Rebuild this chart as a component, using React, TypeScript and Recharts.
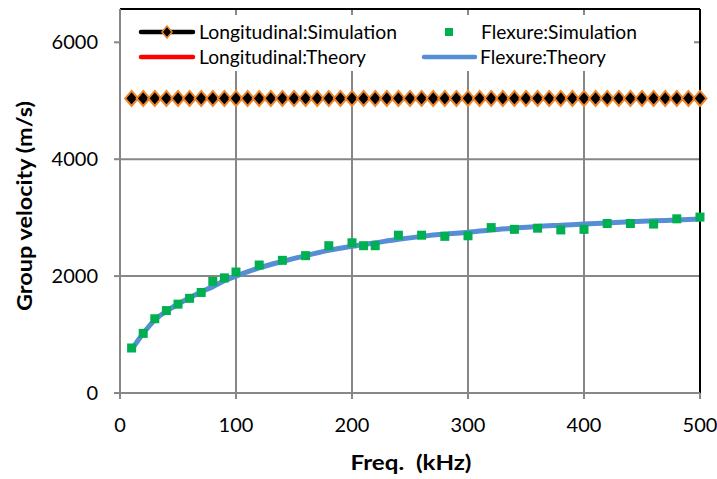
import React from "react";
import { CartesianGrid, ComposedChart, Line, ReferenceLine, Scatter, XAxis, YAxis } from "recharts";

// Longitudinal mode (simulation markers every 10 kHz, theory flat line)
const LONG_SIM_FREQ = [
  10, 20, 30, 40, 50, 60, 70, 80, 90, 100, 110, 120, 130, 140, 150, 160, 170, 180, 190, 200, 210, 220, 230, 240, 250,
  260, 270, 280, 290, 300, 310, 320, 330, 340, 350, 360, 370, 380, 390, 400, 410, 420, 430, 440, 450, 460, 470, 480,
  490, 500,
];
const LONG_SIM_VEL = [
  5040, 5040, 5040, 5040, 5040, 5040, 5040, 5040, 5040, 5040, 5040, 5040, 5040, 5040, 5040, 5040, 5040, 5040, 5040,
  5040, 5040, 5040, 5040, 5040, 5040, 5040, 5040, 5040, 5040, 5040, 5040, 5040, 5040, 5040, 5040, 5040, 5040, 5040,
  5040, 5040, 5040, 5040, 5040, 5040, 5040, 5040, 5040, 5040, 5040, 5040,
];
const LONG_THEORY_FREQ = [10, 500];
const LONG_THEORY_VEL = [5040, 5040];

// Flexure mode
const FLEX_SIM_FREQ = [
  10, 20, 30, 40, 50, 60, 70, 80, 90, 100, 120, 140, 160, 180, 200, 210, 220, 240, 260, 280, 300, 320, 340, 360, 380,
  400, 420, 440, 460, 480, 500,
];
const FLEX_SIM_VEL = [
  770, 1020, 1270, 1410, 1520, 1620, 1720, 1910, 1970, 2070, 2190, 2270, 2350, 2520, 2570, 2520, 2520, 2700, 2700,
  2680, 2690, 2830, 2800, 2820, 2790, 2800, 2900, 2900, 2890, 2980, 3010,
];
const FLEX_THEORY_FREQ = [
  10, 20, 30, 40, 50, 60, 70, 80, 90, 100, 120, 140, 160, 180, 200, 220, 240, 260, 280, 300, 320, 340, 360, 380, 400,
  420, 440, 460, 480, 500,
];
const FLEX_THEORY_VEL = [
  740, 1020, 1250, 1400, 1520, 1630, 1730, 1820, 1920, 2000, 2140, 2250, 2350, 2440, 2510, 2570, 2630, 2680, 2720,
  2750, 2790, 2820, 2850, 2870, 2890, 2910, 2930, 2945, 2960, 2975,
];

const X_TICKS = [0, 100, 200, 300, 400, 500];
const Y_TICKS = [0, 2000, 4000, 6000];
const Y_MAX = 6570;

const zip = (fs: number[], vs: number[]) => fs.map((f, i) => ({ f, v: vs[i] }));
const longSim = zip(LONG_SIM_FREQ, LONG_SIM_VEL);
const longTheory = zip(LONG_THEORY_FREQ, LONG_THEORY_VEL);
const flexSim = zip(FLEX_SIM_FREQ, FLEX_SIM_VEL);
const flexTheory = zip(FLEX_THEORY_FREQ, FLEX_THEORY_VEL);

const FONT = "Lato, 'Open Sans', sans-serif";
const GRID = "#878787";
const ORANGE = "#F0862A";
const BLUE = "#558ED5";
const GREEN = "#00B050";

const diamond = (cx: number, cy: number, w = 6.5, h = 7.5) =>
  `${cx},${cy - h} ${cx + w},${cy} ${cx},${cy + h} ${cx - w},${cy}`;

function DiamondDot(props: any) {
  const { cx, cy, index } = props;
  if (cx == null || cy == null) return <g key={`e${index}`} />;
  return <polygon key={`d${index}`} points={diamond(cx, cy)} fill="#000" stroke={ORANGE} strokeWidth={2} />;
}

function SquareShape(props: any) {
  const { cx, cy } = props;
  return <rect x={cx - 4.5} y={cy - 4.5} width={9} height={9} fill={GREEN} />;
}

function Legend() {
  const txt = { fontFamily: FONT, fontSize: 19, fill: "#000" } as const;
  return (
    <svg width={717} height={479} style={{ position: "absolute", left: 0, top: 0, pointerEvents: "none" }}>
      <rect x={121} y={15} width={573} height={56} fill="#fff" />
      {/* row 1 */}
      <line x1={141} x2={193} y1={32} y2={32} stroke="#000" strokeWidth={4.5} strokeLinecap="round" />
      <polygon points={diamond(167, 32, 5, 6)} fill="#000" stroke={ORANGE} strokeWidth={1.5} />
      <text x={199} y={38.5} textLength={198} lengthAdjust="spacingAndGlyphs" {...txt}>
        Longitudinal:Simulation
      </text>
      <rect x={445} y={28} width={8} height={8} fill={GREEN} />
      <text x={481} y={38.5} textLength={156} lengthAdjust="spacingAndGlyphs" {...txt}>
        Flexure:Simulation
      </text>
      {/* row 2 */}
      <line x1={141} x2={193} y1={57} y2={57} stroke="#FF0000" strokeWidth={4.5} strokeLinecap="round" />
      <text x={199} y={63.5} textLength={167} lengthAdjust="spacingAndGlyphs" {...txt}>
        Longitudinal:Theory
      </text>
      <line x1={424} x2={475} y1={57} y2={57} stroke={BLUE} strokeWidth={4.5} strokeLinecap="round" />
      <text x={480} y={63.5} textLength={126} lengthAdjust="spacingAndGlyphs" {...txt}>
        Flexure:Theory
      </text>
    </svg>
  );
}

export default function App() {
  const tickStyle = { fill: "#000", fontSize: 20, fontFamily: FONT };
  return (
    <div style={{ position: "absolute", left: 0, top: 0, width: 717, height: 479, background: "#fff" }}>
      <ComposedChart width={717} height={479} margin={{ top: 9, right: 17, bottom: 26, left: 0 }}>
        <CartesianGrid stroke={GRID} strokeWidth={2} />
        <XAxis
          type="number"
          dataKey="f"
          domain={[0, 500]}
          ticks={X_TICKS}
          height={60}
          tick={tickStyle}
          tickSize={6}
          tickMargin={19}
          axisLine={{ stroke: GRID, strokeWidth: 2 }}
          tickLine={{ stroke: GRID, strokeWidth: 2 }}
          label={{
            content: () => (
              <text
                x={411}
                y={470}
                textAnchor="middle"
                fontFamily={FONT}
                fontSize={20}
                fontWeight="bold"
                textLength={121}
                lengthAdjust="spacingAndGlyphs"
                fill="#000"
              >
                Freq.{"\u00A0\u00A0"}(kHz)
              </text>
            ),
          }}
        />
        <YAxis
          type="number"
          domain={[0, Y_MAX]}
          ticks={Y_TICKS}
          width={120}
          allowDataOverflow
          tick={tickStyle}
          tickSize={6}
          tickMargin={16}
          axisLine={{ stroke: GRID, strokeWidth: 2 }}
          tickLine={{ stroke: GRID, strokeWidth: 2 }}
          label={{
            content: () => (
              <text
                x={32}
                y={206}
                transform="rotate(-90, 32, 206)"
                textAnchor="middle"
                fontFamily={FONT}
                fontSize={20}
                fontWeight="bold"
                textLength={210}
                lengthAdjust="spacingAndGlyphs"
                fill="#000"
              >
                Group velocity (m/s)
              </text>
            ),
          }}
        />
        <ReferenceLine y={Y_MAX} stroke="#000" strokeWidth={2} />
        <ReferenceLine x={500} stroke="#000" strokeWidth={2} />
        <Line
          data={longTheory}
          dataKey="v"
          stroke="#FF0000"
          strokeWidth={4.5}
          dot={false}
          isAnimationActive={false}
        />
        <Line
          data={longSim}
          dataKey="v"
          stroke="#000"
          strokeWidth={4.5}
          dot={DiamondDot}
          isAnimationActive={false}
        />
        <Scatter data={flexSim} dataKey="v" shape={SquareShape} isAnimationActive={false} />
        <Line
          data={flexTheory}
          dataKey="v"
          type="monotone"
          stroke={BLUE}
          strokeWidth={5}
          dot={false}
          isAnimationActive={false}
        />
      </ComposedChart>
      <Legend />
    </div>
  );
}
